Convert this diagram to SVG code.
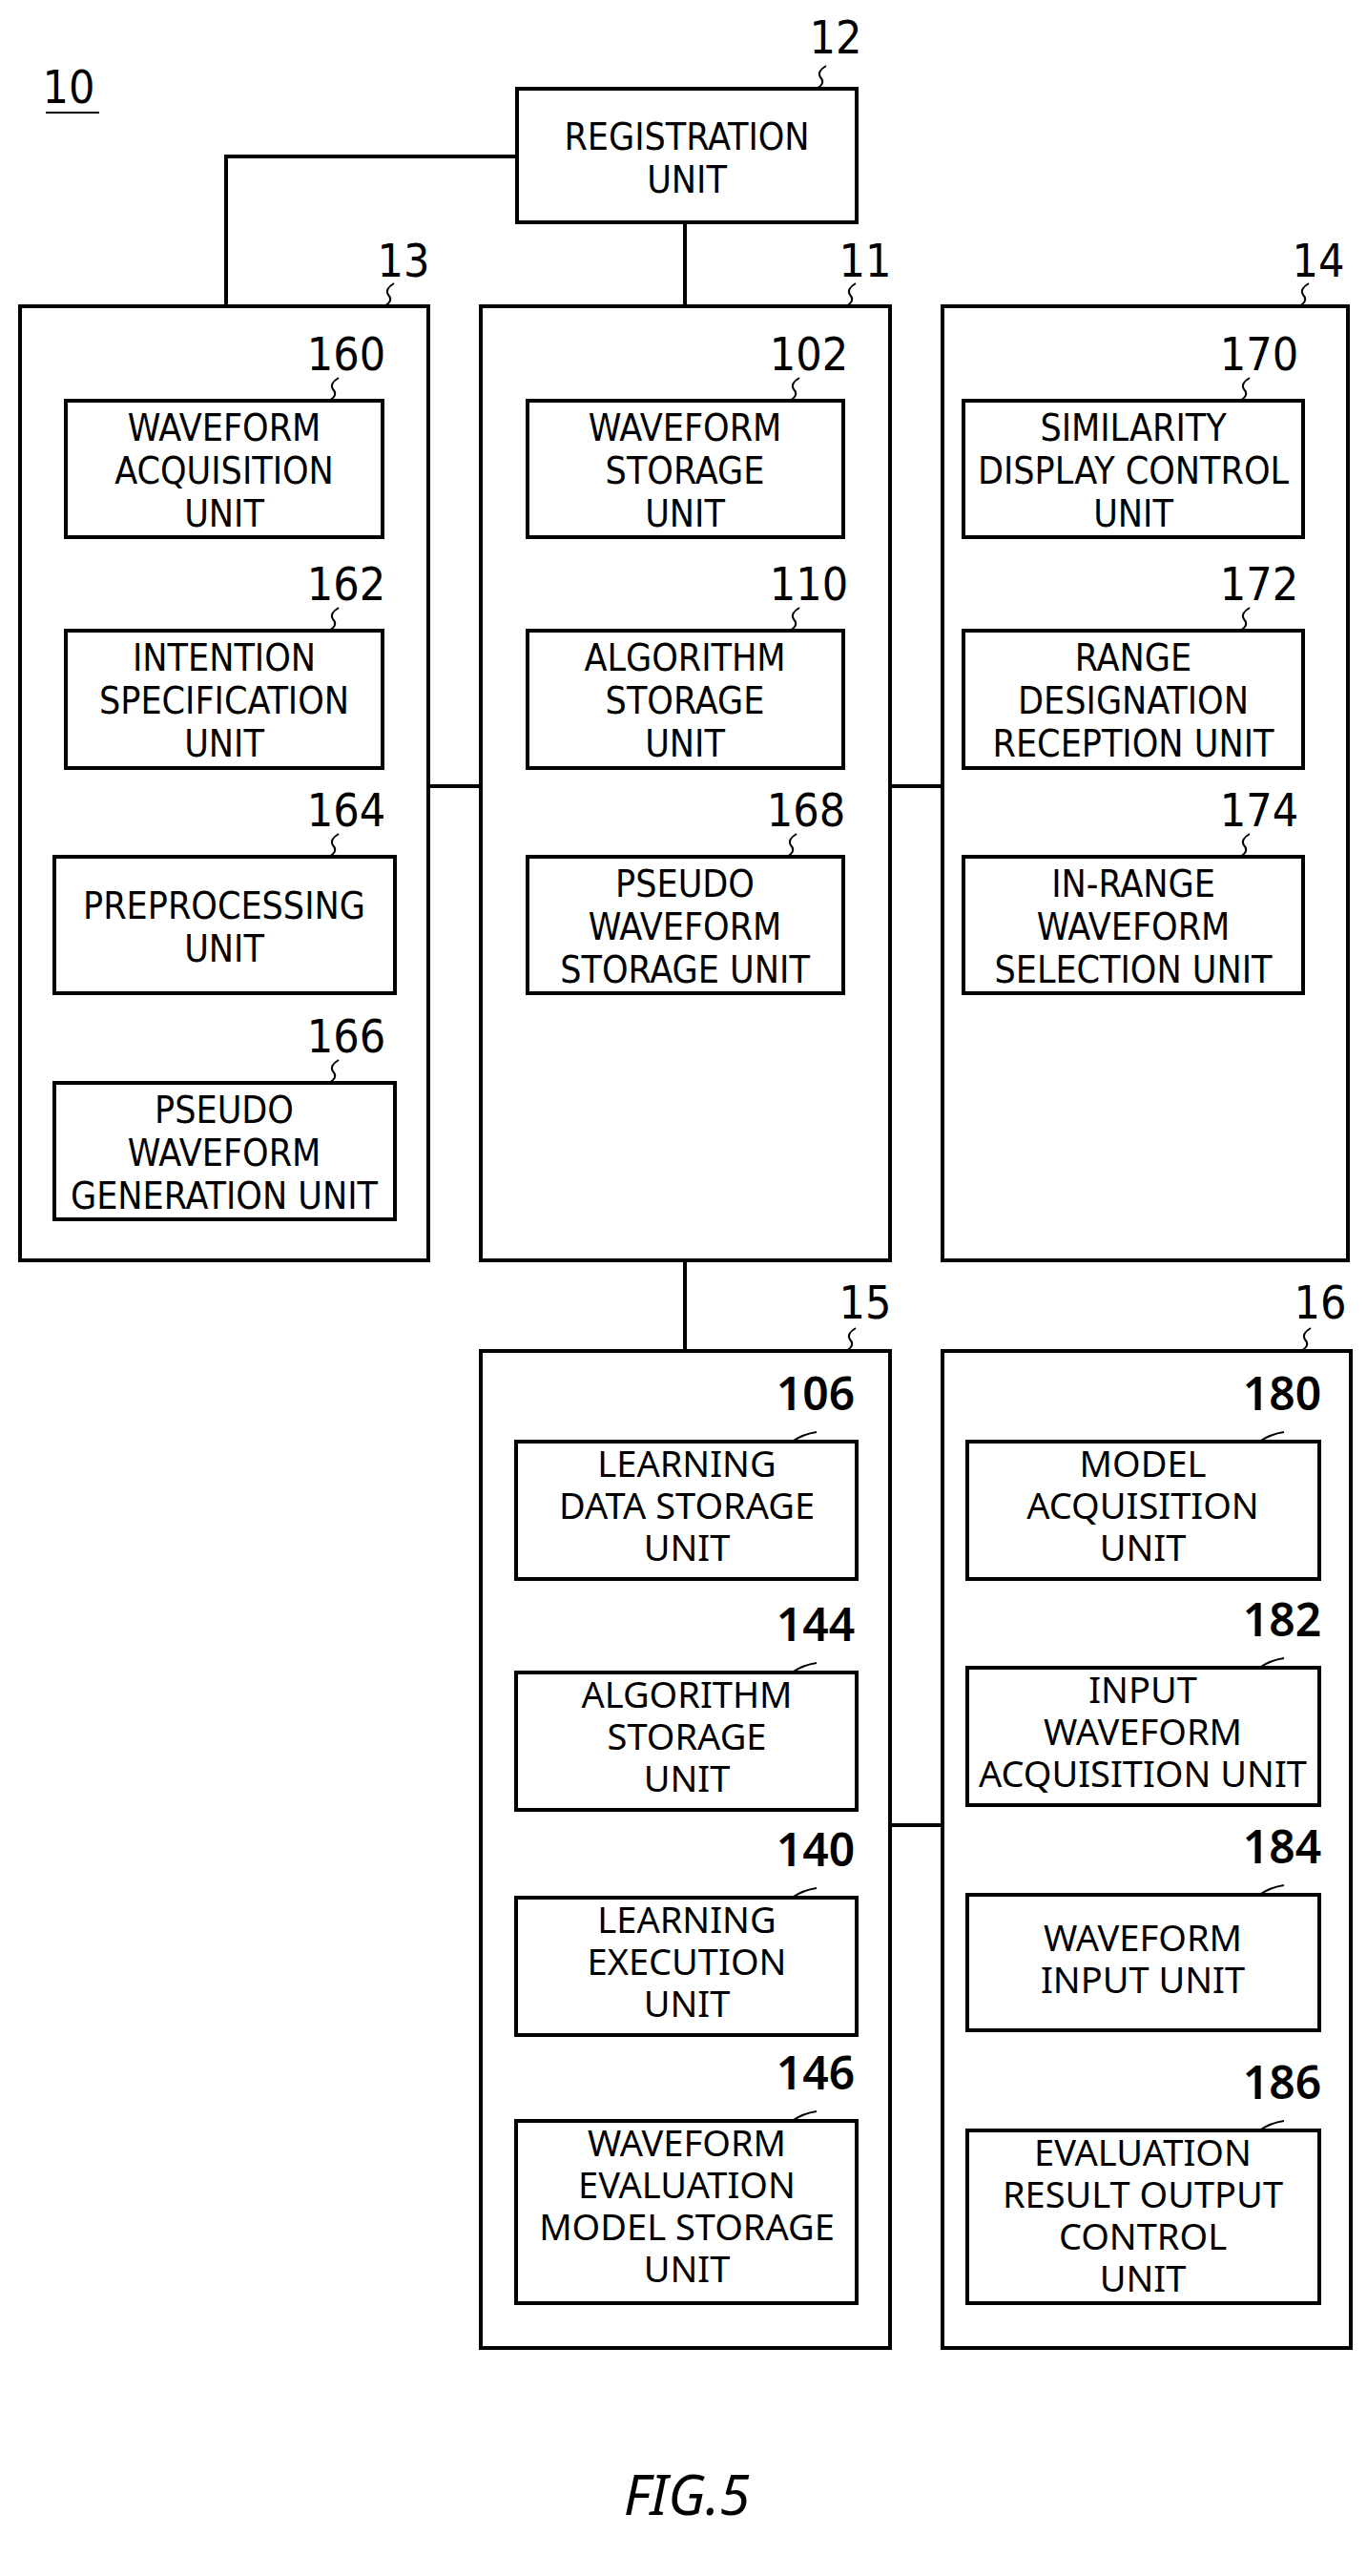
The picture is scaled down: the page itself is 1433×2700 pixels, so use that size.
<svg xmlns="http://www.w3.org/2000/svg" width="1433" height="2700" viewBox="0 0 1433 2700">
<style>
rect{fill:#fff;stroke:#000;stroke-width:4}
.c{fill:none;stroke:#000;stroke-width:4}
.s{fill:none;stroke:#000;stroke-width:2}
text{font-family:"DejaVu Sans Condensed","DejaVu Sans",sans-serif;font-stretch:condensed;text-anchor:middle;fill:#000}
.t{font-size:39px}
.n{font-size:48px}
.b{font-family:"Noto Sans","DejaVu Sans",sans-serif;font-stretch:normal;font-size:38px}
.bn{font-family:"Noto Sans","DejaVu Sans",sans-serif;font-stretch:normal;font-size:48px;font-weight:600}
</style>
<rect width="1433" height="2700" style="fill:#fff;stroke:none"/>
<text x="72" y="108" class="n">10</text>
<line x1="48" y1="118" x2="104" y2="118" class="s"/>
<g id="connectors">
<polyline points="542,164 237,164 237,321" class="c"/>
<line x1="718" y1="233" x2="718" y2="321" class="c"/>
<line x1="449" y1="824" x2="504" y2="824" class="c"/>
<line x1="933" y1="824" x2="988" y2="824" class="c"/>
<line x1="718" y1="1321" x2="718" y2="1416" class="c"/>
<line x1="933" y1="1913" x2="988" y2="1913" class="c"/>
</g>
<g id="n12"><rect x="542" y="93" width="356" height="140"/>
<text class="t" x="720" y="157">REGISTRATION</text><text class="t" x="720" y="202">UNIT</text>
<text class="n" x="876" y="56">12</text><path class="s" d="M856,93 q10,-6 4,-12 q-4,-6 6,-12"/></g>
<g id="n13"><rect x="21" y="321" width="428" height="1000"/><text class="n" x="423" y="290">13</text><path class="s" d="M403,321 q10,-6 4,-12 q-4,-6 6,-12"/></g>
<g id="n11"><rect x="504" y="321" width="429" height="1000"/><text class="n" x="907" y="290">11</text><path class="s" d="M887,321 q10,-6 4,-12 q-4,-6 6,-12"/></g>
<g id="n14"><rect x="988" y="321" width="425" height="1000"/><text class="n" x="1382" y="290">14</text><path class="s" d="M1362,321 q10,-6 4,-12 q-4,-6 6,-12"/></g>
<g id="n160"><rect x="69" y="420" width="332" height="143"/><text class="n" x="363" y="388">160</text><path class="s" d="M345,420 q10,-6 4,-12 q-4,-6 6,-12"/>
<text class="t" x="235" y="462">WAVEFORM</text><text class="t" x="235" y="507">ACQUISITION</text><text class="t" x="235" y="552">UNIT</text></g>
<g id="n162"><rect x="69" y="661" width="332" height="144"/><text class="n" x="363" y="629">162</text><path class="s" d="M345,661 q10,-6 4,-12 q-4,-6 6,-12"/>
<text class="t" x="235" y="703">INTENTION</text><text class="t" x="235" y="748">SPECIFICATION</text><text class="t" x="235" y="793">UNIT</text></g>
<g id="n164"><rect x="57" y="898" width="357" height="143"/><text class="n" x="363" y="866">164</text><path class="s" d="M345,898 q10,-6 4,-12 q-4,-6 6,-12"/>
<text class="t" x="235" y="963">PREPROCESSING</text><text class="t" x="235" y="1008">UNIT</text></g>
<g id="n166"><rect x="57" y="1135" width="357" height="143"/><text class="n" x="363" y="1103">166</text><path class="s" d="M345,1135 q10,-6 4,-12 q-4,-6 6,-12"/>
<text class="t" x="235" y="1177">PSEUDO</text><text class="t" x="235" y="1222">WAVEFORM</text><text class="t" x="235" y="1267">GENERATION UNIT</text></g>
<g id="n102"><rect x="553" y="420" width="331" height="143"/><text class="n" x="848" y="388">102</text><path class="s" d="M828,420 q10,-6 4,-12 q-4,-6 6,-12"/>
<text class="t" x="718" y="462">WAVEFORM</text><text class="t" x="718" y="507">STORAGE</text><text class="t" x="718" y="552">UNIT</text></g>
<g id="n110"><rect x="553" y="661" width="331" height="144"/><text class="n" x="848" y="629">110</text><path class="s" d="M828,661 q10,-6 4,-12 q-4,-6 6,-12"/>
<text class="t" x="718" y="703">ALGORITHM</text><text class="t" x="718" y="748">STORAGE</text><text class="t" x="718" y="793">UNIT</text></g>
<g id="n168"><rect x="553" y="898" width="331" height="143"/><text class="n" x="845" y="866">168</text><path class="s" d="M825,898 q10,-6 4,-12 q-4,-6 6,-12"/>
<text class="t" x="718" y="940">PSEUDO</text><text class="t" x="718" y="985">WAVEFORM</text><text class="t" x="718" y="1030">STORAGE UNIT</text></g>
<g id="n170"><rect x="1010" y="420" width="356" height="143"/><text class="n" x="1320" y="388">170</text><path class="s" d="M1300,420 q10,-6 4,-12 q-4,-6 6,-12"/>
<text class="t" x="1188" y="462">SIMILARITY</text><text class="t" x="1188" y="507">DISPLAY CONTROL</text><text class="t" x="1188" y="552">UNIT</text></g>
<g id="n172"><rect x="1010" y="661" width="356" height="144"/><text class="n" x="1320" y="629">172</text><path class="s" d="M1300,661 q10,-6 4,-12 q-4,-6 6,-12"/>
<text class="t" x="1188" y="703">RANGE</text><text class="t" x="1188" y="748">DESIGNATION</text><text class="t" x="1188" y="793">RECEPTION UNIT</text></g>
<g id="n174"><rect x="1010" y="898" width="356" height="143"/><text class="n" x="1320" y="866">174</text><path class="s" d="M1300,898 q10,-6 4,-12 q-4,-6 6,-12"/>
<text class="t" x="1188" y="940">IN-RANGE</text><text class="t" x="1188" y="985">WAVEFORM</text><text class="t" x="1188" y="1030">SELECTION UNIT</text></g>
<g id="n15"><rect x="504" y="1416" width="429" height="1045"/><text class="n" x="907" y="1382">15</text><path class="s" d="M887,1416 q10,-6 4,-12 q-4,-6 6,-12"/></g>
<g id="n16"><rect x="988" y="1416" width="428" height="1045"/><text class="n" x="1384" y="1382">16</text><path class="s" d="M1364,1416 q10,-6 4,-12 q-4,-6 6,-12"/></g>
<g id="n106"><rect x="541" y="1511" width="357" height="144"/><text class="bn" x="855" y="1478">106</text><path class="s" d="M830,1511 q12,-8 26,-10"/>
<text class="b" x="720" y="1548">LEARNING</text><text class="b" x="720" y="1592">DATA STORAGE</text><text class="b" x="720" y="1636">UNIT</text></g>
<g id="n144"><rect x="541" y="1753" width="357" height="144"/><text class="bn" x="855" y="1720">144</text><path class="s" d="M830,1753 q12,-8 26,-10"/>
<text class="b" x="720" y="1790">ALGORITHM</text><text class="b" x="720" y="1834">STORAGE</text><text class="b" x="720" y="1878">UNIT</text></g>
<g id="n140"><rect x="541" y="1989" width="357" height="144"/><text class="bn" x="855" y="1956">140</text><path class="s" d="M830,1989 q12,-8 26,-10"/>
<text class="b" x="720" y="2026">LEARNING</text><text class="b" x="720" y="2070">EXECUTION</text><text class="b" x="720" y="2114">UNIT</text></g>
<g id="n146"><rect x="541" y="2223" width="357" height="191"/><text class="bn" x="855" y="2190">146</text><path class="s" d="M830,2223 q12,-8 26,-10"/>
<text class="b" x="720" y="2260">WAVEFORM</text><text class="b" x="720" y="2304">EVALUATION</text><text class="b" x="720" y="2348">MODEL STORAGE</text><text class="b" x="720" y="2392">UNIT</text></g>
<g id="n180"><rect x="1014" y="1511" width="369" height="144"/><text class="bn" x="1344" y="1478">180</text><path class="s" d="M1320,1511 q12,-8 26,-10"/>
<text class="b" x="1198" y="1548">MODEL</text><text class="b" x="1198" y="1592">ACQUISITION</text><text class="b" x="1198" y="1636">UNIT</text></g>
<g id="n182"><rect x="1014" y="1748" width="369" height="144"/><text class="bn" x="1344" y="1715">182</text><path class="s" d="M1320,1748 q12,-8 26,-10"/>
<text class="b" x="1198" y="1785">INPUT</text><text class="b" x="1198" y="1829">WAVEFORM</text><text class="b" x="1198" y="1873">ACQUISITION UNIT</text></g>
<g id="n184"><rect x="1014" y="1986" width="369" height="142"/><text class="bn" x="1344" y="1953">184</text><path class="s" d="M1320,1986 q12,-8 26,-10"/>
<text class="b" x="1198" y="2045">WAVEFORM</text><text class="b" x="1198" y="2089">INPUT UNIT</text></g>
<g id="n186"><rect x="1014" y="2233" width="369" height="181"/><text class="bn" x="1344" y="2200">186</text><path class="s" d="M1320,2233 q12,-8 26,-10"/>
<text class="b" x="1198" y="2270">EVALUATION</text><text class="b" x="1198" y="2314">RESULT OUTPUT</text><text class="b" x="1198" y="2358">CONTROL</text><text class="b" x="1198" y="2402">UNIT</text></g>
<text x="720" y="2636" style="font-family:'Noto Sans','DejaVu Sans',sans-serif;font-style:italic;font-size:58px">FIG.5</text>
</svg>
